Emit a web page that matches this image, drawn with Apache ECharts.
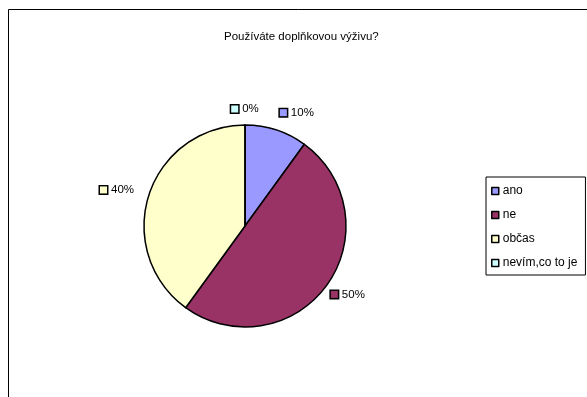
<!DOCTYPE html>
<html>
<head>
<meta charset="utf-8">
<script src="https://cdn.jsdelivr.net/npm/echarts@6/dist/echarts.min.js"></script>
<style>
  html, body { margin: 0; padding: 0; background: #fff; }
  #chart { width: 587px; height: 397px; }
</style>
</head>
<body>
<div id="chart"></div>
<script>
// Survey answers and their shares (%)
const categories = ['ano', 'ne', 'občas', 'nevím,co to je'];
const shares = [10, 50, 40, 0];
const colors = ['#9999FF', '#993366', '#FFFFCC', '#CCFFFF'];
const titleText = 'Používáte doplňkovou výživu?';

const FONT = 'Liberation Sans, Arial, sans-serif';
const PIE_CENTER = [245, 226];
const PIE_RADIUS = 101;
const LABEL_GAP = 10;

// Mid-angle of each slice (clockwise from 12 o'clock), derived from the shares
const total = shares.reduce((a, b) => a + b, 0);
const midAngles = [];
let acc = 0;
shares.forEach(v => {
  midAngles.push(((acc + v / 2) / total) * 2 * Math.PI);
  acc += v;
});

// Rich-text styles: a small bordered swatch in the slice colour before the value
const rich = { v: { fontSize: 11.5, fontFamily: FONT, color: '#000', padding: [0, 0, 0, 4] } };
colors.forEach((c, i) => {
  rich['m' + i] = { width: 7, height: 7, backgroundColor: c, borderColor: '#000', borderWidth: 1.5 };
});

const chart = echarts.init(document.getElementById('chart'), null, { renderer: 'canvas' });

chart.setOption({
  animation: false,
  backgroundColor: '#fff',
  title: {
    text: titleText,
    left: 219,
    top: 26,
    textStyle: { fontSize: 11.5, fontWeight: 'normal', color: '#000', fontFamily: FONT }
  },
  legend: {
    orient: 'vertical',
    left: 486,
    top: 177,
    data: categories,
    icon: 'rect',
    itemWidth: 7,
    itemHeight: 7,
    itemGap: 12,
    padding: [8, 8, 6, 5],
    borderColor: '#000',
    borderWidth: 1,
    itemStyle: { borderColor: '#000', borderWidth: 1.5 },
    textStyle: { fontSize: 12, fontFamily: FONT, color: '#000', lineHeight: 12, padding: [0, 0, 0, -1] },
    selectedMode: false
  },
  graphic: [{
    type: 'rect',
    shape: { x: 8.5, y: 9.5, width: 700, height: 500 },
    style: { fill: 'none', stroke: '#000', lineWidth: 1 },
    silent: true,
    z: 100
  }],
  series: [{
    type: 'pie',
    center: PIE_CENTER,
    radius: PIE_RADIUS,
    startAngle: 90,
    clockwise: true,
    stillShowZeroSum: true,
    minShowLabelAngle: 0,
    avoidLabelOverlap: false,
    itemStyle: { borderColor: '#000', borderWidth: 1.5 },
    emphasis: { disabled: true },
    label: {
      show: true,
      position: 'outside',
      formatter: p => '{m' + p.dataIndex + '|}{v|' + p.percent.toFixed(0) + '%}',
      rich: rich
    },
    labelLine: { show: false, length: 10, length2: 0 },
    labelLayout: function (params) {
      const i = params.dataIndex;
      const a = midAngles[i];
      const ux = Math.sin(a), uy = -Math.cos(a);
      const d = PIE_RADIUS + LABEL_GAP + 6 * Math.abs(ux) * (uy < 0 ? 1 : -1);
      return {
        x: PIE_CENTER[0] + d * ux,
        y: PIE_CENTER[1] + d * uy,
        align: ux > 0.3 ? 'left' : (ux < -0.3 ? 'right' : 'center'),
        verticalAlign: uy < -0.5 ? 'bottom' : (uy > 0.5 ? 'top' : 'middle')
      };
    },
    data: categories.map((name, i) => ({
      name: name,
      value: shares[i],
      itemStyle: { color: colors[i] }
    }))
  }]
});
</script>
</body>
</html>
